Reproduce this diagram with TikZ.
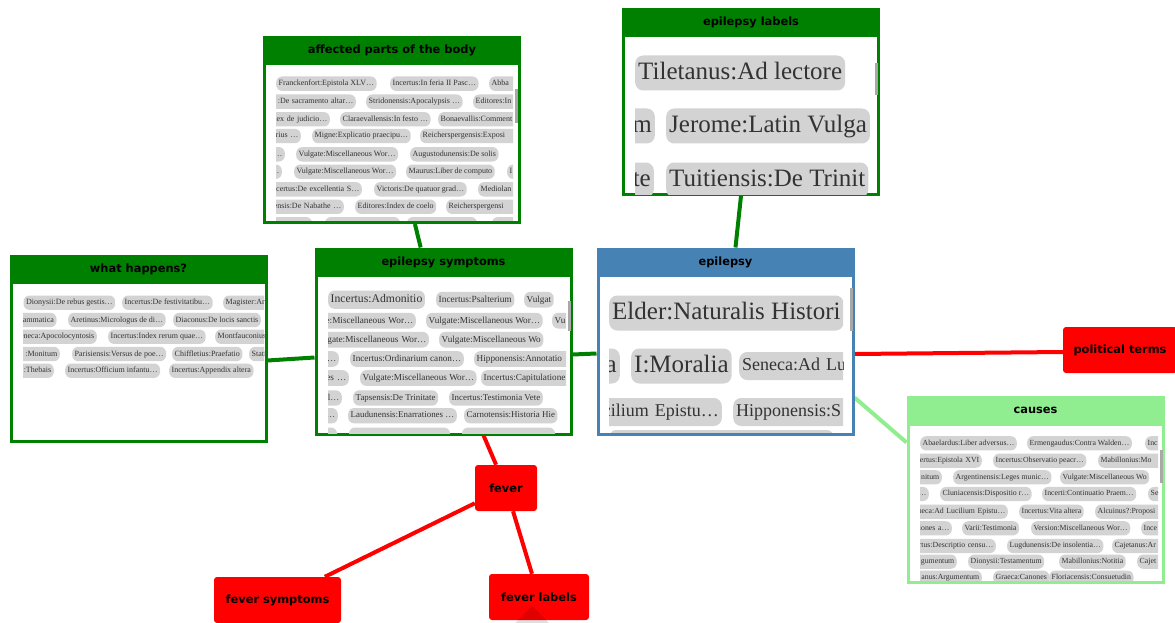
\documentclass[tikz,border=0pt]{standalone}
\usepackage{fontspec}
\setmainfont{Liberation Serif}
\newfontfamily\headfont{DejaVu Sans}
\usetikzlibrary{calc}
\definecolor{grn}{HTML}{008000}
\definecolor{lgrn}{HTML}{90EE90}
\definecolor{blu}{HTML}{4682B4}
\definecolor{chipgray}{HTML}{D3D3D3}
\definecolor{thumb}{HTML}{A8A8A8}
\pgfdeclarelayer{bg}
\pgfsetlayers{bg,main}
\tikzset{
  panel/.style={draw=#1,line width=3,fill=white,minimum width=255,minimum height=185,inner sep=0},
  head/.style={font=\headfont\bfseries\fontsize{11.4}{12}\selectfont,text=black,inner sep=0},
  topic/.style={fill=red,rounded corners=3,font=\headfont\bfseries\fontsize{11.4}{12}\selectfont,minimum height=46,inner sep=0},
  chip/.style={fill=chipgray,text=black!80,rounded corners=6,inner xsep=2.5,inner ysep=3.2},
  big/.style={rounded corners=8,inner xsep=3,inner ysep=5},
  aw/.style={anchor=west},
  ae/.style={anchor=east},
  cw/.style={anchor=west,text width=150,align=left},
  ce/.style={anchor=east,text width=150,align=right},
  link/.style={line width=4},
}

\begin{document}
\begin{tikzpicture}[x=1pt,y=-1pt]
\useasboundingbox (0,0) rectangle (1175,623);

% affected parts of the body
\node[panel=grn] (aff) at (392,130) {};
\fill[grn] (aff.north west) rectangle ([yshift=-29]aff.north east);
\node[head] (affT) at ([yshift=-14.5]aff.north) {affected parts of the body};
\begin{scope}
\clip (276,66) rectangle (513,220);
\foreach \x/\y/\s/\k/\t [count=\i] in {
  276/83.7/8/aw/Franckenfort:Epistola XLV\dots,
  390/83.7/8/aw/Incertus:In feria II Pasc\dots,
  489/83.7/8/cw/Abba,
  356/101.7/8/ce/:De sacramento altar\dots,
  366/101.7/8/aw/Stridonensis:Apocalypsis \dots,
  473/101.7/8/cw/Editores:In,
  330/119.3/8/ce/dex de judicio\dots,
  340/119.3/8/aw/Claraevallensis:In festo \dots,
  438/119.3/8/cw/Bonaevallis:Comment,
  301/136/8/ce/arius \dots,
  312/136/8/aw/Migne:Explicatio praecipu\dots,
  420/136/8/cw/Reicherspergensis:Exposi,
  285/154.3/8/ce/t\dots,
  296/154.3/8/aw/Vulgate:Miscellaneous Wor\dots,
  410/154.3/8/aw/Augustodunensis:De solis,
  282/171.7/8/ce/\dots,
  294/171.7/8/aw/Vulgate:Miscellaneous Wor\dots,
  406/171.7/8/aw/Maurus:Liber de computo,
  507/171.7/8/cw/I,
  362/189.3/8/ce/ncertus:De excellentia S\dots,
  374/189.3/8/aw/Victoris:De quatuor grad\dots,
  478/189.3/8/cw/Mediolan,
  344/206.7/8/ce/ensis:De Nabathe \dots,
  355/206.7/8/aw/Editores:Index de coelo,
  446/206.7/8/cw/Reicherspergensi}
  \node[chip,\k,font=\fontsize{\s}{\s}\selectfont,text height=.75*\s,text depth=.25*\s] (aff\i) at (\x,\y) {\t};
\foreach \a/\b in {270/312,325/400,407/477,492/530}
  \fill[chipgray,rounded corners=6] (\a,217) rectangle (\b,231);
\end{scope}
\fill[thumb] (515,89) rectangle (517.5,123);

% epilepsy labels
\node[panel=grn] (lab) at (751,102) {};
\fill[grn] (lab.north west) rectangle ([yshift=-29]lab.north east);
\node[head] (labT) at ([yshift=-14.5]lab.north) {epilepsy labels};
\begin{scope}
\clip (635,39) rectangle (871,194);
\foreach \x/\y/\s/\k/\t [count=\i] in {
  635/73/25/aw/Tiletanus:Ad lectore,
  655/126/25/ce/m,
  666/126/25/aw/Jerome:Latin Vulga,
  654/180/25/ce/te,
  666/180/25/aw/Tuitiensis:De Trinit}
  \node[chip,big,\k,font=\fontsize{\s}{\s}\selectfont,text height=.75*\s,text depth=.25*\s] (lab\i) at (\x,\y) {\t};
\end{scope}
\fill[thumb] (875,63) rectangle (877.5,95);

% what happens?
\node[panel=grn] (what) at (138.5,348.5) {};
\fill[grn] (what.north west) rectangle ([yshift=-29]what.north east);
\node[head] (whatT) at ([yshift=-14.5]what.north) {what happens?};
\begin{scope}
\clip (23,286) rectangle (264,440);
\foreach \x/\y/\s/\k/\t [count=\i] in {
  23.3/302.7/8/aw/Dionysii:De rebus gestis\dots,
  122/302.7/8/aw/Incertus:De festivitatibu\dots,
  223/302.7/8/cw/Magister:Ar,
  56.7/320/8/ce/ammatica,
  68/320/8/aw/Aretinus:Micrologus de di\dots,
  173/320/8/aw/Diaconus:De locis sanctis,
  97/336.7/8/ce/eneca:Apocolocyntosis,
  108/336.7/8/aw/Incertus:Index rerum quae\dots,
  215/336.7/8/cw/Montfauconius,
  60/354/8/ce/:Monitum,
  72/354/8/aw/Parisiensis:Versus de poe\dots,
  172/354/8/aw/Chiffletius:Praefatio,
  249/354/8/cw/Stati,
  54/370.7/8/ce/:Thebais,
  65/370.7/8/aw/Incertus:Officium infantu\dots,
  169/370.7/8/aw/Incertus:Appendix altera}
  \node[chip,\k,font=\fontsize{\s}{\s}\selectfont,text height=.75*\s,text depth=.25*\s] (what\i) at (\x,\y) {\t};
\end{scope}

% epilepsy symptoms
\node[panel=grn] (sym) at (443.5,341.5) {};
\fill[grn] (sym.north west) rectangle ([yshift=-29]sym.north east);
\node[head] (symT) at ([yshift=-14.5]sym.north) {epilepsy symptoms};
\begin{scope}
\clip (328,277) rectangle (566,433);
\foreach \x/\y/\s/\k/\t [count=\i] in {
  328/299.7/11.7/aw/Incertus:Admonitio,
  436/299.7/9.4/aw/Incertus:Psalterium,
  524/299.7/9.2/aw/Vulgat,
  416/320.7/9.2/ce/e:Miscellaneous Wor\dots,
  426/320.7/9.2/aw/Vulgate:Miscellaneous Wor\dots,
  552/320.7/9.2/cw/Vu,
  429/339.7/9.2/ce/lgate:Miscellaneous Wor\dots,
  439/339.7/9.2/aw/Vulgate:Miscellaneous Wo,
  339/359/9.2/ce/r\dots,
  350/359/9.2/aw/Incertus:Ordinarium canon\dots,
  474/359/9.2/cw/Hipponensis:Annotatio,
  349/378/9.2/ce/nes \dots,
  360/378/9.2/aw/Vulgate:Miscellaneous Wor\dots,
  481/378/9.2/cw/Incertus:Capitulatione,
  342/398/8.9/ce/s l\dots,
  353/398/8.9/aw/Tapsensis:De Trinitate,
  449/398/8.9/aw/Incertus:Testimonia Vete,
  338/415.7/8.9/ce/r\dots,
  348/415.7/8.9/aw/Laudunensis:Enarrationes \dots,
  464/415.7/8.9/aw/Carnotensis:Historia Hie}
  \node[chip,\k,font=\fontsize{\s}{\s}\selectfont,text height=.75*\s,text depth=.25*\s] (sym\i) at (\x,\y) {\t};
\foreach \a/\b in {310/337,349/450,462/555}
  \fill[chipgray,rounded corners=6] (\a,427.5) rectangle (\b,445);
\end{scope}
\fill[thumb] (568,301) rectangle (570.5,331);

% epilepsy
\node[panel=blu] (epi) at (725.5,341.5) {};
\fill[blu] (epi.north west) rectangle ([yshift=-29]epi.north east);
\node[head] (epiT) at ([yshift=-14.5]epi.north) {epilepsy};
\begin{scope}
\clip (609,278) rectangle (843,432);
\foreach \x/\y/\s/\k/\t [count=\i] in {
  609/313/25/aw/Elder:Naturalis Histori,
  620/366/25/ce/a,
  631/366/25/aw/I:Moralia,
  739/366/18/cw/Seneca:Ad Lu,
  722/412/18/ce/cilium Epistu\dots,
  733/412/18/cw/Hipponensis:S}
  \node[chip,big,\k,font=\fontsize{\s}{\s}\selectfont,text height=.75*\s,text depth=.25*\s] (epi\i) at (\x,\y) {\t};
\fill[chipgray,rounded corners=6] (610,430) rectangle (833,450);
\end{scope}
\fill[thumb] (850,288) rectangle (852.5,331);

% causes
\node[panel=lgrn] (cau) at (1035.5,489.5) {};
\fill[lgrn] (cau.north west) rectangle ([yshift=-30]cau.north east);
\node[head] (cauT) at ([yshift=-15]cau.north) {causes};
\begin{scope}
\clip (920,428) rectangle (1158,580);
\foreach \x/\y/\s/\k/\t [count=\i] in {
  920/443.3/7.8/aw/Abaelardus:Liber adversus\dots,
  1027/443.3/7.8/aw/Ermengaudus:Contra Walden\dots,
  1145/443.3/7.8/cw/Inc,
  982/460.7/7.8/ce/ertus:Epistola XVI,
  993/460.7/7.8/aw/Incertus:Observatio peacr\dots,
  1098/460.7/7.8/cw/Mabillonius:Mo,
  942/477.3/7.8/ce/nitum,
  953/477.3/7.8/aw/Argentinensis:Leges munic\dots,
  1060/477.3/7.8/aw/Vulgate:Miscellaneous Wo,
  929/494/7.8/ce/r\dots,
  940/494/7.8/aw/Cluniacensis:Dispositio r\dots,
  1042/494/7.8/aw/Incerti:Continuatio Praem\dots,
  1148/494/7.8/cw/Se,
  1008/511.7/7.8/ce/neca:Ad Lucilium Epistu\dots,
  1019/511.7/7.8/aw/Incertus:Vita altera,
  1095/511.7/7.8/cw/Alcuinus?:Proposi,
  952/528.3/7.8/ce/tiones a\dots,
  962/528.3/7.8/aw/Varii:Testimonia,
  1031/528.3/7.8/aw/Version:Miscellaneous Wor\dots,
  1141/528.3/7.8/cw/Ince,
  996/546/7.8/ce/rtus:Descriptio censu\dots,
  1007/546/7.8/aw/Lugdunensis:De insolentia\dots,
  1112/546/7.8/cw/Cajetanus:Ar,
  957/561.7/7.8/ce/gumentum,
  968/561.7/7.8/aw/Dionysii:Testamentum,
  1059/561.7/7.8/aw/Mabillonius:Notitia,
  1137/561.7/7.8/cw/Cajet,
  982/577.7/7.8/ce/anus:Argumentum,
  993/577.7/7.8/aw/Graeca:Canones,
  1049/577.7/7.8/aw/Floriacensis:Consuetudin}
  \node[chip,\k,font=\fontsize{\s}{\s}\selectfont,text height=.75*\s,text depth=.25*\s] (cau\i) at (\x,\y) {\t};
\end{scope}
\fill[thumb] (1160,450) rectangle (1162.5,483);

% red topics
\node[topic,minimum width=114] (pol) at (1120,350) {political terms};
\node[topic,minimum width=62] (fev) at (506,488) {fever};
\node[topic,minimum width=127] (fsym) at (277.5,600) {fever symptoms};
\node[topic,minimum width=100] (flab) at (539,597) {fever labels};
\fill[black,opacity=.12] (532,606) -- (549,623) -- (515,623) -- cycle;

\begin{pgfonlayer}{bg}
\draw[link,grn] (aff) -- (sym);
\draw[link,grn] (lab) -- (epi);
\draw[link,grn] ([yshift=-12]what.east) -- ([yshift=-16]sym.west);
\draw[link,grn] ([yshift=-13]sym.east) -- ([yshift=-12]epi.west);
\draw[link,red] ([yshift=-12.5]epi.east) -- ([yshift=-2]pol.west);
\draw[link,lgrn] ([yshift=-56]epi.east) -- ([yshift=47]cau.west);
\draw[link,red] (sym) -- (fev);
\draw[link,red] (fev) -- (fsym);
\draw[link,red] (fev) -- (flab);
\end{pgfonlayer}
\end{tikzpicture}
\end{document}
